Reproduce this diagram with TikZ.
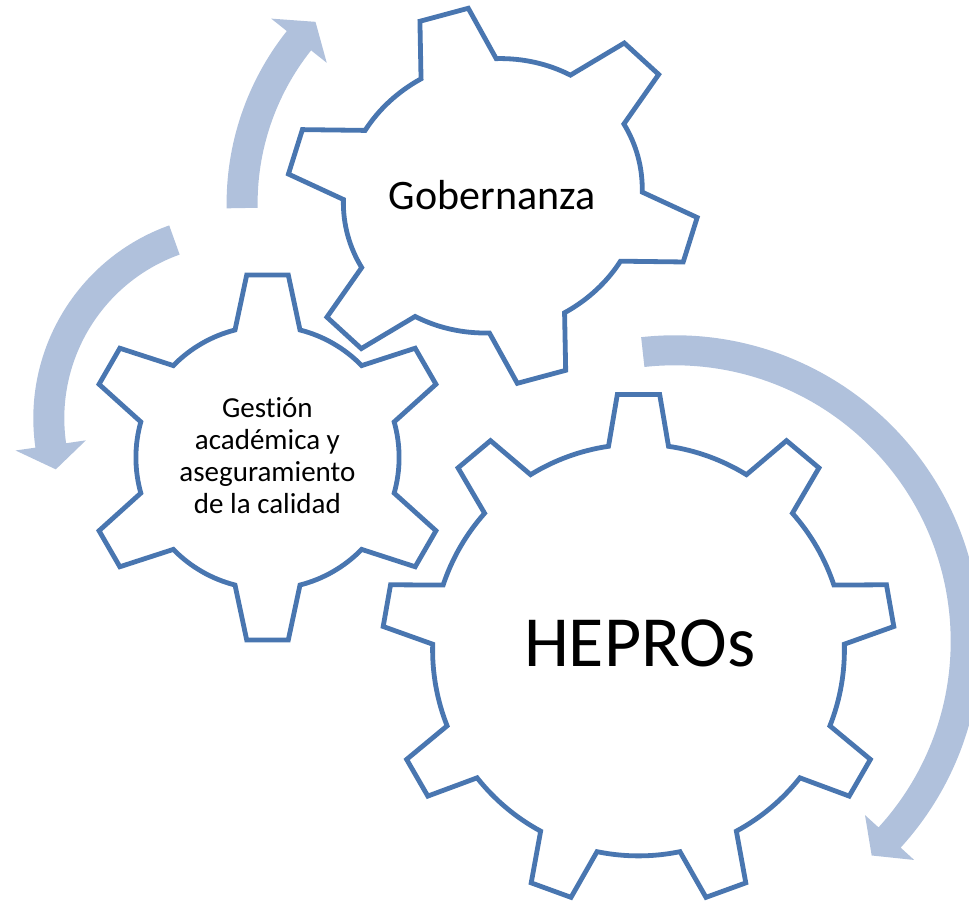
\documentclass[tikz,border=0pt]{standalone}
\usepackage{fontspec}
\setmainfont{Carlito}[Ligatures=NoCommon]
\definecolor{gearblue}{RGB}{73,118,176}
\definecolor{arrowblue}{RGB}{176,193,220}
\tikzset{
  gearstyle/.style={draw=gearblue, line width=4.8pt, fill=white, line join=miter},
  arrowfill/.style={fill=arrowblue, draw=none},
  gearlabel/.style={anchor=base, inner sep=0pt, text=black}
}
% #1 teeth, #2 first tooth angle, #3 outer half-angle, #4 outer corner radius, #5 base half-angle, #6 root radius
\newcommand{\gearoutline}[6]{%
  \pgfmathsetmacro{\gpitch}{360/#1}%
  \draw[gearstyle] ({#2+#5}:#6) \foreach \k in {1,...,#1}{
     -- ({#2-(\k-1)*\gpitch+#3}:#4) -- ({#2-(\k-1)*\gpitch-#3}:#4) -- ({#2-(\k-1)*\gpitch-#5}:#6)
     arc[start angle={#2-(\k-1)*\gpitch-#5}, end angle={#2-\k*\gpitch+#5}, radius=#6]
  } -- cycle;
}
\begin{document}
\begin{tikzpicture}[x=1pt, y=1pt]
\useasboundingbox (0,0) rectangle (969,900);
\clip (0,0) rectangle (969,900);

% circular arrows
\begin{scope}[shift={(503.6,696.5)}]
  \fill[arrowfill] (181:277) arc[start angle=181, end angle=141.5, radius=277]
    -- (141.5:297) -- (136:261.5) -- (141.5:226) -- (141.5:246)
    arc[start angle=141.5, end angle=181, radius=246] -- cycle;
\end{scope}
\begin{scope}[shift={(238.3,481.6)}]
  \fill[arrowfill] (109.7:205) arc[start angle=109.7, end angle=188.2, radius=205]
    -- (188.2:225) -- (195.6:189.5) -- (188.2:154) -- (188.2:174)
    arc[start angle=188.2, end angle=109.7, radius=174] -- cycle;
\end{scope}
\begin{scope}[shift={(674.7,258.7)}]
  \fill[arrowfill] (96.3:306) arc[start angle=96.3, end angle=-42.4, radius=306]
    -- (-42.4:324.3) -- (-47.4:291) -- (-42.4:257.7) -- (-42.4:276)
    arc[start angle=-42.4, end angle=96.3, radius=276] -- cycle;
\end{scope}

% gears
\begin{scope}[shift={(492.8,704.2)}, rotate=15.06, xscale=207.4, yscale=187.9]
  \gearoutline{6}{90}{6.9}{1.005}{15}{0.725}
\end{scope}
\begin{scope}[shift={(267.5,442.5)}]
  \gearoutline{6}{90}{6.5}{183.7}{14.3}{131.6}
\end{scope}
\begin{scope}[shift={(638.5,250)}]
  \gearoutline{9}{90}{4.74}{256.4}{8.38}{205.9}
\end{scope}

% labels
\node[gearlabel, font=\fontsize{42}{50}\selectfont] (gob) at (492.2,690.7) {Gobernanza};
\node[gearlabel, font=\fontsize{72}{86}\selectfont] (hep) at (639.8,233.7) {HEPROs};
\node[gearlabel, font=\fontsize{29}{32.2}\selectfont] (ges) at (267.4,482.7)
  {\begin{tabular}[t]{@{}c@{}}Gestión\\académica y\\aseguramiento\\de la calidad\end{tabular}};
\end{tikzpicture}
\end{document}
